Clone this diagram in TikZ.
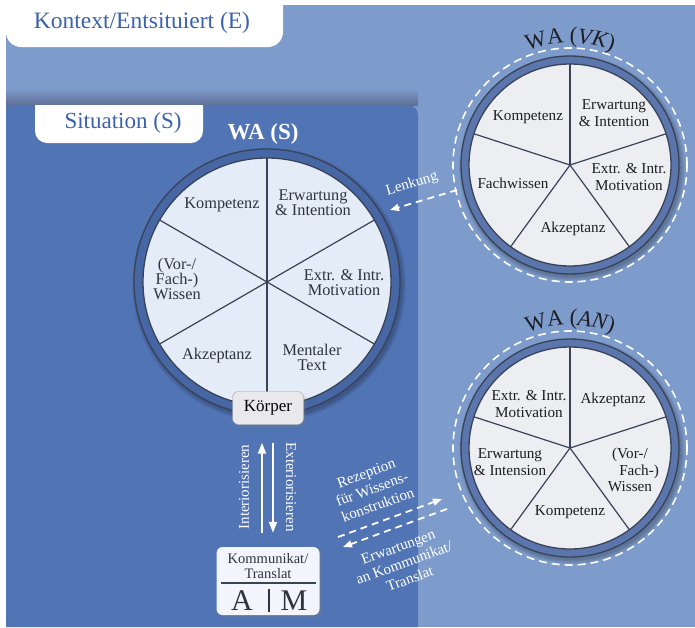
\documentclass[tikz,border=0pt]{standalone}
\usepackage{fontspec}
\setmainfont{Liberation Serif}
\usetikzlibrary{arrows.meta,positioning,decorations.text,shadows}
\definecolor{bgE}{HTML}{7E9CCB}
\definecolor{bgS}{HTML}{5174B5}
\definecolor{shadowC}{HTML}{5F7096}
\definecolor{ringS}{HTML}{4666A4}
\definecolor{ringV}{HTML}{5A76AD}
\definecolor{fillS}{HTML}{E4ECF8}
\definecolor{fillV}{HTML}{ECEEF2}
\definecolor{lineC}{HTML}{3A4257}
\definecolor{titleC}{HTML}{3A62AE}
\definecolor{txtS}{HTML}{2E3340}
\definecolor{txtV}{HTML}{1E1E22}
\definecolor{boxF}{HTML}{E9E9EB}
\definecolor{boxL}{HTML}{A0A0A6}
\definecolor{kommF}{HTML}{F2F5FB}

\begin{document}
\begin{tikzpicture}[x=1pt, y=-1pt,
  secS/.style={font=\fontsize{16.3}{15}\selectfont, align=center, text=txtS, inner sep=0pt},
  secV/.style={font=\fontsize{15.2}{16.5}\selectfont, align=center, text=txtV, inner sep=0pt},
  wl/.style={font=\fontsize{15}{17}\selectfont, align=center, text=white, inner sep=0pt},
  spoke/.style={draw=lineC, line width=1.2pt},
  rim/.style={draw=lineC, line width=1.3pt},
  halo/.style={draw=white, line width=1.6pt, dash pattern=on 8pt off 5pt},
  flow/.style={draw=white, line width=1.8pt, -{Triangle[length=11pt,width=8pt]}},
  dflow/.style={draw=white, line width=1.8pt, dash pattern=on 7pt off 5pt, -{Triangle[length=9pt,width=7pt]}}]
\useasboundingbox (0,0) rectangle (695,627);

\fill[bgE] (6,5) rectangle (695,627);
\shade[top color=bgE, bottom color=shadowC] (6,88) rectangle (418,105);
\fill[bgS] (6,627) -- (6,105) -- (408,105) arc[start angle=90, end angle=0, radius=10pt] -- (418,627) -- cycle;

\fill[white] (6,0) -- (6,32) arc[start angle=180, end angle=270, radius=15pt] -- (268,47) arc[start angle=270, end angle=360, radius=15pt] -- (283,0) -- cycle;
\node[font=\fontsize{23.5}{24}\selectfont, text=titleC] (ctx) at (142,23) {Kontext/Entsituiert (E)};
\fill[white] (35,105) -- (35,131) arc[start angle=180, end angle=270, radius=12pt] -- (191,143) arc[start angle=270, end angle=360, radius=12pt] -- (203,105) -- cycle;
\node[font=\fontsize{23}{23}\selectfont, text=titleC] (sit) at (123,123) {Situation (S)};

% WA (S)
\coordinate (cS) at (267,282);
\foreach \k in {1,...,5} \fill[black, opacity=.05] (cS) ++(2,3) circle[radius=132pt+\k pt];
\filldraw[fill=ringS, rim] (cS) circle[radius=133pt];
\filldraw[fill=fillS, rim] (cS) circle[radius=124pt];
\foreach \a in {90,30,150} \draw[spoke] (cS) ++(\a:124pt) -- ++(\a+180:248pt);
\node[font=\bfseries\fontsize{23}{23}\selectfont, text=white] (tS) at (263,134) {WA (S)};
\node[secS] (sKomp) at (222,205) {Kompetenz};
\node[secS] (sErw) at (313,203) {Erwartung\\\& Intention};
\node[secS] (sMot) at (344,283) {Extr. \& Intr.\\Motivation};
\node[secS] (sWis) at (177,279) {(Vor-/\\Fach-)\\Wissen};
\node[secS] (sAkz) at (217,356) {Akzeptanz};
\node[secS] (sMen) at (312,357) {Mentaler\\Text};

% WA (VK)
\coordinate (cVK) at (570,165);
\foreach \k in {1,...,5} \fill[black, opacity=.05] (cVK) ++(2,3) circle[radius=108pt+\k pt];
\filldraw[fill=ringV, rim] (cVK) circle[radius=109pt];
\filldraw[fill=fillV, rim] (cVK) circle[radius=101pt];
\draw[halo] (cVK) circle[radius=117pt];
\foreach \a in {90,18,-54,-126,162} \draw[spoke] (cVK) -- ++(\a:101pt);
\path[decorate, decoration={text along path, text align=center, text color=txtV,
  text={|\fontsize{22.5}{22}\selectfont|WA (|\fontsize{22.5}{22}\selectfont\itshape|VK|\fontsize{22.5}{22}\selectfont\upshape|)}}]
  (cVK) ++(113:122pt) arc[start angle=113, end angle=67, radius=122pt];
\node[secV] (vKomp) at (528,117) {Kompetenz};
\node[secV] (vErw) at (614,113) {Erwartung\\\& Intention};
\node[secV] (vMot) at (629,177) {Extr. \& Intr.\\Motivation};
\node[secV] (vFach) at (513,183) {Fachwissen};
\node[secV] (vAkz) at (573,229) {Akzeptanz};

% WA (AN)
\coordinate (cAN) at (570,448);
\foreach \k in {1,...,5} \fill[black, opacity=.05] (cAN) ++(2,3) circle[radius=108pt+\k pt];
\filldraw[fill=ringV, rim] (cAN) circle[radius=109pt];
\filldraw[fill=fillV, rim] (cAN) circle[radius=101pt];
\draw[halo] (cAN) circle[radius=117pt];
\foreach \a in {90,18,-54,-126,162} \draw[spoke] (cAN) -- ++(\a:101pt);
\path[decorate, decoration={text along path, text align=center, text color=txtV,
  text={|\fontsize{22.5}{22}\selectfont|WA (|\fontsize{22.5}{22}\selectfont\itshape|AN|\fontsize{22.5}{22}\selectfont\upshape|)}}]
  (cAN) ++(113:123pt) arc[start angle=113, end angle=67, radius=123pt];
\node[secV] (aMot) at (529,404) {Extr. \& Intr.\\Motivation};
\node[secV] (aAkz) at (613,400) {Akzeptanz};
\node[secV] (aErw) at (510,462) {Erwartung\\\& Intension};
\node[secV] (aWis) at (630,470) {(Vor-/\\\hspace*{1.2em}Fach-)\\Wissen};
\node[secV] (aKomp) at (570,512) {Kompetenz};

% Koerper und Kommunikat
\node[draw=boxL, fill=boxF, rounded corners=6pt, minimum width=71pt, minimum height=33pt,
  font=\fontsize{17}{17}\selectfont, drop shadow={opacity=.25}] (koerper) at (268,408) {Körper};
\node[fill=kommF, rounded corners=6pt, minimum width=103pt, minimum height=68pt,
  drop shadow={opacity=.25}] (komm) at (268,581) {};
\node[font=\fontsize{14.5}{14.5}\selectfont, text=txtS, anchor=base] (kommA) at (268,563) {Kommunikat/};
\node[font=\fontsize{14.5}{14.5}\selectfont, text=txtS, anchor=base] (kommB) at (268,578) {Translat};
\draw[lineC, line width=1.5pt] (221,583) -- (316,583);
\node[font=\fontsize{30}{30}\selectfont, text=txtS, anchor=base] (kA) at (242,610) {A};
\node[font=\fontsize{30}{30}\selectfont, text=txtS, anchor=base] (kM) at (294,610) {M};
\draw[txtS, line width=2pt] (269,589) -- (269,612);

\draw[flow, shorten <=14pt, shorten >=18pt] ([xshift=-6pt]komm.north) -- ([xshift=-6pt]koerper.south);
\draw[flow, shorten <=18pt, shorten >=14pt] ([xshift=5pt]koerper.south) -- ([xshift=5pt]komm.north);
\node[wl, rotate=90] (intL) at (244,487) {Interiorisieren};
\node[wl, rotate=-90] (extL) at (291,487) {Exteriorisieren};

% Lenkung und Rezeption
\coordinate (lenkA) at (457,190);
\coordinate (lenkB) at (390,210);
\draw[dflow] (lenkA) -- (lenkB);
\node[wl, rotate=17] (lenk) at (412,184) {Lenkung};
\coordinate (rzA) at (338,537);
\coordinate (rzB) at (442,499);
\draw[dflow] (rzA) -- (rzB);
\coordinate (erA) at (447,509);
\coordinate (erB) at (343,547);
\draw[dflow] (erA) -- (erB);
\node[wl, rotate=20] (rez) at (372,489) {Rezeption\\für Wissens-\\konstruktion};
\node[wl, rotate=20] (erw) at (404,563) {Erwartungen\\an Kommunikat/\\Translat};
\end{tikzpicture}
\end{document}
